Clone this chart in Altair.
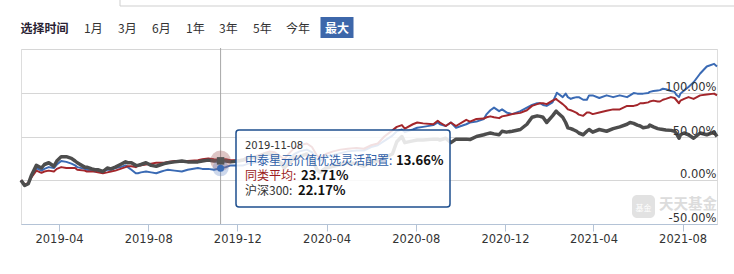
import altair as alt
import pandas as pd

# ---------------- data ----------------
dates = [
    "2019-02-08", "2019-02-13", "2019-02-18", "2019-02-22", "2019-03-01", "2019-03-08",
    "2019-03-12", "2019-03-18", "2019-03-25", "2019-03-29", "2019-04-04", "2019-04-11",
    "2019-04-18", "2019-04-23", "2019-04-26", "2019-05-06", "2019-05-09", "2019-05-16",
    "2019-05-20", "2019-05-24", "2019-05-31", "2019-06-06", "2019-06-11", "2019-06-17",
    "2019-06-24", "2019-07-01", "2019-07-04", "2019-07-09", "2019-07-15", "2019-07-18",
    "2019-07-22", "2019-07-29", "2019-08-05", "2019-08-12", "2019-08-19", "2019-08-23",
    "2019-08-28", "2019-09-06", "2019-09-16", "2019-09-24", "2019-10-08", "2019-10-14",
    "2019-10-22", "2019-10-30", "2019-11-08", "2019-11-15", "2019-11-22", "2019-12-02",
    "2019-12-09", "2019-12-16", "2019-12-23", "2019-12-31", "2020-01-07", "2020-01-14",
    "2020-01-21", "2020-02-03", "2020-02-10", "2020-02-17", "2020-02-24", "2020-03-05",
    "2020-03-12", "2020-03-19", "2020-03-23", "2020-03-31", "2020-04-10", "2020-04-20",
    "2020-04-30", "2020-05-12", "2020-05-22", "2020-06-01", "2020-06-10", "2020-06-19",
    "2020-06-30", "2020-07-06", "2020-07-13", "2020-07-17", "2020-07-28", "2020-08-03",
    "2020-08-11", "2020-08-25", "2020-08-31", "2020-09-03", "2020-09-11", "2020-09-18",
    "2020-09-25", "2020-10-09", "2020-10-14", "2020-10-23", "2020-11-02", "2020-11-06",
    "2020-11-11", "2020-11-16", "2020-11-23", "2020-11-27", "2020-12-03", "2020-12-11",
    "2020-12-22", "2020-12-31", "2021-01-07", "2021-01-14", "2021-01-18", "2021-01-22",
    "2021-01-27", "2021-02-04", "2021-02-09", "2021-02-10", "2021-02-18", "2021-02-22",
    "2021-02-25", "2021-03-01", "2021-03-04", "2021-03-09", "2021-03-12", "2021-03-18",
    "2021-03-23", "2021-03-26", "2021-03-31", "2021-04-09", "2021-04-19", "2021-04-28",
    "2021-05-07", "2021-05-17", "2021-05-21", "2021-05-26", "2021-05-31", "2021-06-04",
    "2021-06-08", "2021-06-15", "2021-06-17", "2021-06-22", "2021-06-28", "2021-07-01",
    "2021-07-05", "2021-07-09", "2021-07-16", "2021-07-21", "2021-07-23", "2021-07-27",
    "2021-07-29", "2021-08-03", "2021-08-09", "2021-08-16", "2021-08-25", "2021-09-03",
    "2021-09-13", "2021-09-17",
]

fund = [
    0, -6, -4, 4, 14, 11, 13, 15, 14, 18, 22, 21,
    19, 17, 15, 13, 12, 11, 10, 10, 10, 12, 12, 14,
    15, 17, 15, 12, 8, 8, 9, 10, 9, 8, 10, 11,
    12, 11, 10, 12, 14, 13, 13, 12, 13.66, 15, 17, 17,
    17, 19, 20, 21, 23, 25, 25, 19, 25, 30, 33, 35,
    32, 24, 22, 27, 29, 31, 33, 34, 34, 38, 40, 45,
    51, 56, 58, 55, 58, 60, 61, 63, 66, 64, 62, 66,
    60, 64, 66, 67, 70, 75.6, 80, 83, 79, 81, 77.5, 75.6,
    79, 83, 86, 88, 88, 86, 85, 89, 98, 100, 95, 99,
    95, 93, 94, 95, 95, 92, 92, 97, 97, 94, 97, 95,
    97, 95, 97, 99.6, 99, 99, 99, 99.6, 101, 102, 102.7, 103,
    104.6, 104, 102, 101, 98, 95, 99, 102.7, 106.6, 112, 122, 130,
    133, 130,
]

peer = [
    0, -5, -3, 3, 11, 8.5, 10, 11, 10, 13, 15, 14,
    14, 14, 12, 11, 10, 10, 10, 9, 8, 9, 10, 11,
    13, 15, 16, 16, 15, 17, 17, 18, 19, 20, 20, 20,
    21, 22, 22, 22, 23, 24, 25, 24, 23.71, 24, 23, 23,
    24, 26, 27, 29, 31, 33, 32, 24, 31, 37, 40, 42,
    38, 28, 26, 30, 33, 35, 36, 37, 36, 40, 42, 50,
    57, 61, 63, 59, 64, 66, 65, 64, 68, 66, 62, 66,
    62, 69, 67, 70, 70.5, 72, 73, 72, 71, 73, 74, 75.6,
    77, 80, 85, 87, 88, 88, 87, 91, 93, 92, 87, 84,
    81, 80, 79, 77, 75, 73.6, 77.5, 77.5, 75.6, 77.5, 79.4, 81,
    81, 85, 85, 85, 86, 88, 88, 89, 90, 91, 90, 90,
    92, 93, 95, 94, 92, 88, 91, 93, 95, 93, 97, 98,
    99, 97,
]

hs300 = [
    0, -6, -4, 5, 17, 14, 18, 20, 16, 22, 27, 27,
    25, 22, 20, 15, 15, 13, 12, 12, 10, 14, 13, 15,
    18, 21, 20, 20, 17, 17, 18, 20, 17, 16, 18, 19,
    20, 21, 22, 21, 21, 22, 23, 22, 22.17, 22, 21, 22,
    23, 26, 26, 27, 30, 30, 28, 14, 20, 26, 27, 30,
    24, 12, 9, 14, 16, 18, 20, 19, 16, 21, 22, 26,
    30, 44, 50, 43, 45, 46, 46, 47, 47, 46, 48, 43,
    47, 47, 46.5, 50, 52, 53, 54, 53, 52, 56, 55, 56,
    58, 64, 72, 73.6, 73, 72, 66, 73.6, 79, 78, 72, 66,
    60, 59, 58, 56, 54, 52, 56, 58, 55, 58, 56, 59,
    61, 64, 66, 65, 63, 62, 60, 61, 63, 61, 59, 58.5,
    58, 57.5, 57, 56, 54, 48, 52, 54, 52, 48, 54, 52,
    55, 50,
]

series_names = ["中泰星元价值优选灵活配置", "同类平均", "沪深300"]
series_colors = ["#3a6ab4", "#a3262b", "#4d4d4d"]
series_widths = [2, 2, 3.5]

hover_date = "2019-11-08"
hover_values = [13.66, 23.71, 22.17]
hover_labels = ["13.66%", "23.71%", "22.17%"]

y_grid_values = [-50, 0, 50, 100, 150]
y_label_values = [-50, 0, 50, 100]
y_label_texts = ["-50.00%", "0.00%", "50.00%", "100.00%"]

x_tick_dates = [(2019, 4), (2019, 8), (2019, 12), (2020, 4), (2020, 8),
                (2020, 12), (2021, 4), (2021, 8)]

buttons = ["1月", "3月", "6月", "1年", "3年", "5年", "今年"]
button_x = [63, 97, 131, 165, 198, 232, 265]

# ---------------- chart ----------------
W, H = 696, 175

df = pd.DataFrame({"date": dates, "fund": fund, "peer": peer, "hs300": hs300})

x_scale = alt.Scale(
    type="utc",
    domain=[alt.DateTime(year=2019, month=2, date=8, utc=True),
            alt.DateTime(year=2021, month=9, date=17, utc=True)],
)
x_axis = alt.Axis(
    values=[alt.DateTime(year=y, month=m, date=1, utc=True) for y, m in x_tick_dates],
    labelExpr="utcFormat(datum.value, '%Y-%m')",
    title=None, grid=False, domainColor="#b4c3d6", tickColor="#b4c3d6",
    tickSize=7, labelFont="DejaVu Sans", labelFontSize=11.5, labelColor="#333333",
    labelPadding=2, labelFlush=False,
)
y_scale = alt.Scale(domain=[-50, 150], nice=False, zero=False)
y_axis = alt.Axis(values=y_grid_values, grid=True, gridColor="#d6d6d6", labels=False,
                  ticks=False, domain=False, title=None)

X = alt.X("date:T", scale=x_scale, axis=x_axis)

layers = []
for col, color, sw in [("fund", series_colors[0], series_widths[0]),
                       ("peer", series_colors[1], series_widths[1]),
                       ("hs300", series_colors[2], series_widths[2])]:
    layers.append(
        alt.Chart(df).mark_line(color=color, strokeWidth=sw, strokeJoin="round")
        .encode(x=X, y=alt.Y(f"{col}:Q", scale=y_scale, axis=y_axis))
    )

# y labels inside the plot, right aligned
ylab = pd.DataFrame({"v": y_label_values, "t": y_label_texts})
layers.append(
    alt.Chart(ylab).mark_text(align="right", baseline="alphabetic", dy=-2,
                              font="DejaVu Sans", fontSize=11.5, color="#333333")
    .encode(x=alt.value(W - 0.5), y=alt.Y("v:Q", scale=y_scale, axis=y_axis), text="t:N")
)

# watermark
one = pd.DataFrame({"a": [0]})
layers.append(
    alt.Chart(one).mark_rect(color="#e2e2e2", cornerRadius=5)
    .encode(x=alt.value(611), x2=alt.value(634), y=alt.value(146), y2=alt.value(169))
)
layers.append(
    alt.Chart(one).mark_text(text="基金", font="Noto Sans CJK SC", fontSize=8,
                             color="white", align="center", baseline="middle")
    .encode(x=alt.value(622.5), y=alt.value(160))
)
layers.append(
    alt.Chart(one).mark_text(text="天天基金", font="Noto Sans CJK SC", fontSize=14.5,
                             fontWeight="bold", color="#dcdcdc", align="left",
                             baseline="alphabetic")
    .encode(x=alt.value(638), y=alt.value(160))
)

# crosshair
hov = pd.DataFrame({"date": [hover_date], "fund": [hover_values[0]],
                    "peer": [hover_values[1]], "hs300": [hover_values[2]]})
layers.append(
    alt.Chart(hov).mark_rule(color="#a8a8a8", strokeWidth=1)
    .encode(x=X, y=alt.value(-1), y2=alt.value(H))
)
layers.append(
    alt.Chart(hov).mark_circle(size=420, color="#a05a5a", opacity=0.35)
    .encode(x=X, y=alt.Y("hs300:Q", scale=y_scale, axis=y_axis))
)
layers.append(
    alt.Chart(hov).mark_circle(size=260, color="#5a7fc0", opacity=0.3)
    .encode(x=X, y=alt.Y("fund:Q", scale=y_scale, axis=y_axis))
)
layers.append(
    alt.Chart(hov).mark_square(size=56, color="#555555", opacity=1)
    .encode(x=X, y=alt.Y("hs300:Q", scale=y_scale, axis=y_axis))
)
layers.append(
    alt.Chart(hov).mark_circle(size=50, color=series_colors[0], opacity=1)
    .encode(x=X, y=alt.Y("fund:Q", scale=y_scale, axis=y_axis))
)

# tooltip box
layers.append(
    alt.Chart(one).mark_rect(fill="white", fillOpacity=0.86, stroke="#1e4f8e",
                             strokeWidth=1.5, cornerRadius=3)
    .encode(x=alt.value(215), x2=alt.value(429), y=alt.value(81), y2=alt.value(158))
)


def txt(s, x, y, size=12, color="#333333", weight="normal", font="Noto Sans CJK SC",
        align="left"):
    return (alt.Chart(one)
            .mark_text(text=s, font=font, fontSize=size, color=color, fontWeight=weight,
                       align=align, baseline="alphabetic")
            .encode(x=alt.value(x), y=alt.value(y)))


layers.append(txt(hover_date, 224, 100, size=10, color="#333333", font="DejaVu Sans"))
layers.append(txt(series_names[0] + ":", 224, 116, color="#2f60a8"))
layers.append(txt(hover_labels[0], 375, 116, size=13, color="#111111", weight="bold"))
layers.append(txt(series_names[1] + ":", 224, 131, color="#9b1c22"))
layers.append(txt(hover_labels[1], 280, 131, size=13, color="#111111", weight="bold"))
layers.append(txt(series_names[2] + ":", 224, 146, color="#333333"))
layers.append(txt(hover_labels[2], 277, 146, size=13, color="#111111", weight="bold"))

# top range selector
layers.append(
    alt.Chart(one).mark_rule(color="#cfcfcf")
    .encode(x=alt.value(99), x2=alt.value(713), y=alt.value(-43))
)
layers.append(
    alt.Chart(one).mark_rule(color="#cfcfcf")
    .encode(x=alt.value(99), y=alt.value(-49), y2=alt.value(-43))
)
layers.append(txt("选择时间", -0.5, -16, size=12, color="#2a1f33", weight="bold"))
for b, bx in zip(buttons, button_x):
    layers.append(txt(b, bx, -16, size=12, color="#333333"))
layers.append(
    alt.Chart(one).mark_rect(color="#3d67aa")
    .encode(x=alt.value(299.5), x2=alt.value(332.5), y=alt.value(-32), y2=alt.value(-11))
)
layers.append(txt("最大", 316, -16, size=12, color="white", weight="bold", align="center"))

chart = alt.layer(*layers).properties(
    width=W, height=H,
    autosize=alt.AutoSizeParams(type="none"),
    padding={"left": 21, "top": 49, "right": 17, "bottom": 50},
).configure_view(stroke=None).configure(background="white")

chart.save("out.html", embed_options={"renderer": "svg", "actions": False})
